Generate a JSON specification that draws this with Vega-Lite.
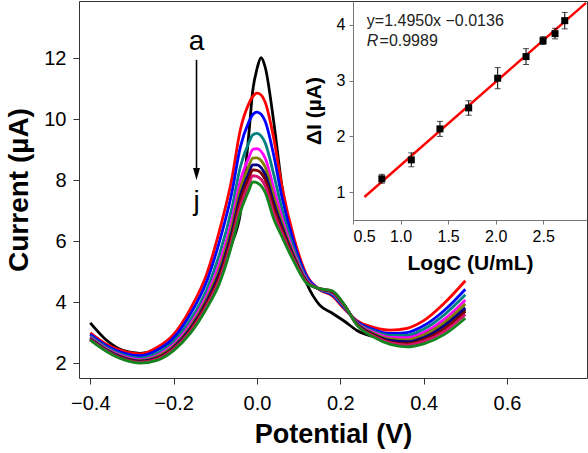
{
  "$schema": "https://vega.github.io/schema/vega-lite/v6.json",
  "width": 508,
  "height": 377,
  "autosize": {"type": "none"},
  "padding": {"left": 79, "top": 1, "right": 1, "bottom": 75},
  "background": "white",
  "config": {
    "view": {"stroke": "#333333", "strokeWidth": 1},
    "font": "Liberation Sans",
    "axis": {"grid": false, "labelColor": "black", "titleColor": "black", "labelFont": "Liberation Sans", "titleFont": "Liberation Sans"}
  },
  "layer": [
    {
      "layer": [
        {
          "data": {"values": [
            {"E": -0.40, "a": 3.33, "b": 3.00, "c": 2.95, "d": 2.89, "e": 2.85, "f": 2.83, "g": 2.81, "h": 2.79, "i": 2.78, "j": 2.76},
            {"E": -0.36, "a": 2.75, "b": 2.62, "c": 2.57, "d": 2.51, "e": 2.47, "f": 2.45, "g": 2.43, "h": 2.41, "i": 2.40, "j": 2.38},
            {"E": -0.32, "a": 2.42, "b": 2.40, "c": 2.34, "d": 2.27, "e": 2.23, "f": 2.20, "g": 2.18, "h": 2.16, "i": 2.14, "j": 2.12},
            {"E": -0.28, "a": 2.33, "b": 2.31, "c": 2.25, "d": 2.17, "e": 2.12, "f": 2.09, "g": 2.07, "h": 2.05, "i": 2.03, "j": 2.01},
            {"E": -0.24, "a": 2.45, "b": 2.52, "c": 2.43, "d": 2.33, "e": 2.26, "f": 2.22, "g": 2.18, "h": 2.16, "i": 2.13, "j": 2.10},
            {"E": -0.20, "a": 2.78, "b": 2.95, "c": 2.84, "d": 2.71, "e": 2.62, "f": 2.57, "g": 2.53, "h": 2.49, "i": 2.46, "j": 2.42},
            {"E": -0.16, "a": 3.35, "b": 3.78, "c": 3.61, "d": 3.42, "e": 3.28, "f": 3.20, "g": 3.14, "h": 3.09, "i": 3.04, "j": 2.98},
            {"E": -0.12, "a": 4.25, "b": 4.95, "c": 4.71, "d": 4.44, "e": 4.25, "f": 4.14, "g": 4.05, "h": 3.98, "i": 3.90, "j": 3.82},
            {"E": -0.09, "a": 5.05, "b": 6.35, "c": 5.99, "d": 5.57, "e": 5.28, "f": 5.10, "g": 4.97, "h": 4.86, "i": 4.74, "j": 4.62},
            {"E": -0.06, "a": 5.95, "b": 8.07, "c": 7.61, "d": 7.09, "e": 6.72, "f": 6.51, "g": 6.33, "h": 6.20, "i": 6.05, "j": 5.90},
            {"E": -0.04, "a": 6.90, "b": 9.65, "c": 9.08, "d": 8.43, "e": 7.98, "f": 7.71, "g": 7.49, "h": 7.33, "i": 7.14, "j": 6.95},
            {"E": -0.02, "a": 9.43, "b": 10.50, "c": 9.90, "d": 9.22, "e": 8.73, "f": 8.45, "g": 8.22, "h": 8.05, "i": 7.85, "j": 7.65},
            {"E": -0.01, "a": 10.95, "b": 10.75, "c": 10.16, "d": 9.49, "e": 9.01, "f": 8.73, "g": 8.51, "h": 8.34, "i": 8.15, "j": 7.95},
            {"E": 0.00, "a": 11.65, "b": 10.86, "c": 10.24, "d": 9.54, "e": 9.04, "f": 8.74, "g": 8.51, "h": 8.33, "i": 8.13, "j": 7.92},
            {"E": 0.01, "a": 12.02, "b": 10.80, "c": 10.17, "d": 9.46, "e": 8.95, "f": 8.65, "g": 8.42, "h": 8.24, "i": 8.03, "j": 7.82},
            {"E": 0.02, "a": 11.70, "b": 10.55, "c": 9.93, "d": 9.22, "e": 8.72, "f": 8.43, "g": 8.19, "h": 8.01, "i": 7.81, "j": 7.60},
            {"E": 0.04, "a": 9.95, "b": 9.40, "c": 8.84, "d": 8.21, "e": 7.76, "f": 7.49, "g": 7.28, "h": 7.12, "i": 6.94, "j": 6.75},
            {"E": 0.06, "a": 7.80, "b": 7.80, "c": 7.45, "d": 7.06, "e": 6.78, "f": 6.61, "g": 6.48, "h": 6.38, "i": 6.27, "j": 6.15},
            {"E": 0.09, "a": 5.80, "b": 6.05, "c": 5.89, "d": 5.71, "e": 5.58, "f": 5.51, "g": 5.45, "h": 5.40, "i": 5.35, "j": 5.30},
            {"E": 0.12, "a": 4.60, "b": 4.88, "c": 4.83, "d": 4.76, "e": 4.72, "f": 4.69, "g": 4.67, "h": 4.66, "i": 4.64, "j": 4.62},
            {"E": 0.15, "a": 3.92, "b": 4.42, "c": 4.43, "d": 4.43, "e": 4.44, "f": 4.44, "g": 4.44, "h": 4.45, "i": 4.45, "j": 4.45},
            {"E": 0.18, "a": 3.65, "b": 4.22, "c": 4.25, "d": 4.29, "e": 4.32, "f": 4.34, "g": 4.35, "h": 4.36, "i": 4.37, "j": 4.38},
            {"E": 0.21, "a": 3.38, "b": 3.78, "c": 3.81, "d": 3.84, "e": 3.87, "f": 3.88, "g": 3.89, "h": 3.90, "i": 3.91, "j": 3.92},
            {"E": 0.24, "a": 3.08, "b": 3.40, "c": 3.37, "d": 3.34, "e": 3.32, "f": 3.31, "g": 3.29, "h": 3.28, "i": 3.26, "j": 3.25},
            {"E": 0.28, "a": 2.88, "b": 3.18, "c": 3.11, "d": 3.06, "e": 3.02, "f": 2.98, "g": 2.95, "h": 2.92, "i": 2.89, "j": 2.86},
            {"E": 0.32, "a": 2.82, "b": 3.09, "c": 2.98, "d": 2.92, "e": 2.85, "f": 2.80, "g": 2.75, "h": 2.70, "i": 2.67, "j": 2.62},
            {"E": 0.36, "a": 2.85, "b": 3.15, "c": 3.01, "d": 2.92, "e": 2.84, "f": 2.77, "g": 2.71, "h": 2.65, "i": 2.60, "j": 2.54},
            {"E": 0.40, "a": 3.00, "b": 3.40, "c": 3.23, "d": 3.12, "e": 3.01, "f": 2.93, "g": 2.85, "h": 2.78, "i": 2.72, "j": 2.64},
            {"E": 0.45, "a": 3.30, "b": 3.98, "c": 3.74, "d": 3.60, "e": 3.45, "f": 3.34, "g": 3.24, "h": 3.14, "i": 3.05, "j": 2.95},
            {"E": 0.50, "a": 3.75, "b": 4.71, "c": 4.43, "d": 4.25, "e": 4.08, "f": 3.95, "g": 3.82, "h": 3.70, "i": 3.60, "j": 3.48}
          ]},
          "transform": [{"fold": ["a", "b", "c", "d", "e", "f", "g", "h", "i", "j"], "as": ["curve", "I"]}],
          "mark": {"type": "line", "interpolate": "monotone", "strokeWidth": 2.8},
          "encoding": {
            "x": {"field": "E", "type": "quantitative",
                  "scale": {"domain": [-0.427, 0.792], "nice": false, "zero": false},
                  "axis": {"orient": "bottom", "values": [-0.4, -0.2, 0, 0.2, 0.4, 0.6], "format": ".1f", "title": "Potential (V)",
                           "titleFontSize": 27, "titleFontWeight": "bold", "labelFontSize": 20, "tickSize": 6, "labelPadding": 9,
                           "titlePadding": 8, "domain": false, "tickColor": "#333333"}},
            "y": {"field": "I", "type": "quantitative",
                  "scale": {"domain": [1.52, 13.88], "nice": false, "zero": false},
                  "axis": {"orient": "left", "values": [2, 4, 6, 8, 10, 12], "format": "d", "title": "Current (µA)",
                           "titleFontSize": 28, "titleFontWeight": "bold", "labelFontSize": 20, "tickSize": 6, "labelPadding": 7,
                           "titlePadding": 10, "domain": false, "tickColor": "#333333"}},
            "color": {"field": "curve", "type": "nominal",
                      "scale": {"domain": ["a", "b", "c", "d", "e", "f", "g", "h", "i", "j"],
                                "range": ["#000000", "#ff0000", "#0000ff", "#008080", "#ff00ff", "#808000", "#000080", "#800000", "#d6136c", "#14851e"]},
                      "legend": null},
            "order": {"field": "E", "type": "quantitative"}
          }
        },
        {
          "data": {"values": [{"E": -0.145, "I": 11.95, "I2": 8.3}]},
          "mark": {"type": "rule", "color": "black", "strokeWidth": 1.6},
          "encoding": {
            "x": {"field": "E", "type": "quantitative"},
            "y": {"field": "I", "type": "quantitative"},
            "y2": {"field": "I2"}
          }
        },
        {
          "data": {"values": [{"E": -0.145, "I": 8.21}]},
          "mark": {"type": "point", "shape": "M-0.58,-1L0.58,-1L0,1Z", "filled": true, "color": "black", "opacity": 1, "size": 144},
          "encoding": {
            "x": {"field": "E", "type": "quantitative"},
            "y": {"field": "I", "type": "quantitative"}
          }
        },
        {
          "data": {"values": [{"E": -0.145, "I": 12.27, "t": "a"}, {"E": -0.145, "I": 7.04, "t": "j"}]},
          "mark": {"type": "text", "fontSize": 28, "align": "center", "baseline": "alphabetic", "color": "black", "font": "Liberation Sans"},
          "encoding": {
            "x": {"field": "E", "type": "quantitative"},
            "y": {"field": "I", "type": "quantitative"},
            "text": {"field": "t"}
          }
        }
      ]
    },
    {
      "layer": [
        {
          "data": {"values": [{"x": 0.62, "y": 0.913}, {"x": 2.95, "y": 4.397}]},
          "mark": {"type": "line", "color": "#ff0000", "strokeWidth": 2.4},
          "encoding": {
            "x": {"field": "x", "type": "quantitative",
                  "scale": {"domain": [0.5, 2.96], "range": [274, 508], "nice": false, "zero": false},
                  "axis": {"orient": "bottom", "offset": -158, "values": [0.5, 1, 1.5, 2, 2.5], "format": ".1f", "title": "LogC (U/mL)",
                           "titleFontSize": 21, "titleFontWeight": "bold", "labelFontSize": 16, "tickSize": 4, "labelPadding": 4,
                           "titlePadding": 8, "domainColor": "#777777", "tickColor": "#777777"}},
            "y": {"field": "y", "type": "quantitative",
                  "scale": {"domain": [0.5, 4.43], "range": [219, 0], "nice": false, "zero": false},
                  "axis": {"orient": "left", "offset": -274, "values": [1, 2, 3, 4], "format": "d", "title": "ΔI (µA)",
                           "titleFontSize": 21, "titleFontWeight": "bold", "labelFontSize": 16, "tickSize": 4, "labelPadding": 4,
                           "titlePadding": 12, "domainColor": "#777777", "tickColor": "#777777"}}
          }
        },
        {
          "data": {"name": "pts", "values": [
            {"x": 0.803, "y": 1.239, "lo": 1.16, "hi": 1.32},
            {"x": 1.113, "y": 1.579, "lo": 1.455, "hi": 1.705},
            {"x": 1.414, "y": 2.135, "lo": 2.0, "hi": 2.27},
            {"x": 1.716, "y": 2.512, "lo": 2.38, "hi": 2.64},
            {"x": 2.021, "y": 3.044, "lo": 2.855, "hi": 3.235},
            {"x": 2.319, "y": 3.432, "lo": 3.29, "hi": 3.575},
            {"x": 2.498, "y": 3.718, "lo": 3.65, "hi": 3.79},
            {"x": 2.624, "y": 3.844, "lo": 3.75, "hi": 3.94},
            {"x": 2.726, "y": 4.077, "lo": 3.93, "hi": 4.225}
          ]},
          "layer": [
            {
              "mark": {"type": "rule", "color": "black", "strokeWidth": 1},
              "encoding": {
                "x": {"field": "x", "type": "quantitative"},
                "y": {"field": "lo", "type": "quantitative"},
                "y2": {"field": "hi"}
              }
            },
            {
              "mark": {"type": "tick", "orient": "horizontal", "size": 6, "thickness": 1, "color": "black"},
              "encoding": {
                "x": {"field": "x", "type": "quantitative"},
                "y": {"field": "lo", "type": "quantitative"}
              }
            },
            {
              "mark": {"type": "tick", "orient": "horizontal", "size": 6, "thickness": 1, "color": "black"},
              "encoding": {
                "x": {"field": "x", "type": "quantitative"},
                "y": {"field": "hi", "type": "quantitative"}
              }
            },
            {
              "mark": {"type": "point", "shape": "square", "filled": true, "color": "black", "opacity": 1, "size": 49},
              "encoding": {
                "x": {"field": "x", "type": "quantitative"},
                "y": {"field": "y", "type": "quantitative"}
              }
            }
          ]
        },
        {
          "data": {"values": [{"x": 0.645, "y": 3.98, "t": "y=1.4950x −0.0136"}, {"x": 0.779, "y": 3.623, "t": "=0.9989"}]},
          "mark": {"type": "text", "fontSize": 16, "align": "left", "baseline": "alphabetic", "color": "#222222", "font": "Liberation Sans"},
          "encoding": {
            "x": {"field": "x", "type": "quantitative"},
            "y": {"field": "y", "type": "quantitative"},
            "text": {"field": "t"}
          }
        },
        {
          "data": {"values": [{"x": 0.645, "y": 3.623, "t": "R"}]},
          "mark": {"type": "text", "fontSize": 16, "fontStyle": "italic", "align": "left", "baseline": "alphabetic", "color": "#222222", "font": "Liberation Sans"},
          "encoding": {
            "x": {"field": "x", "type": "quantitative"},
            "y": {"field": "y", "type": "quantitative"},
            "text": {"field": "t"}
          }
        }
      ]
    }
  ],
  "resolve": {
    "scale": {"x": "independent", "y": "independent"},
    "axis": {"x": "independent", "y": "independent"}
  }
}
